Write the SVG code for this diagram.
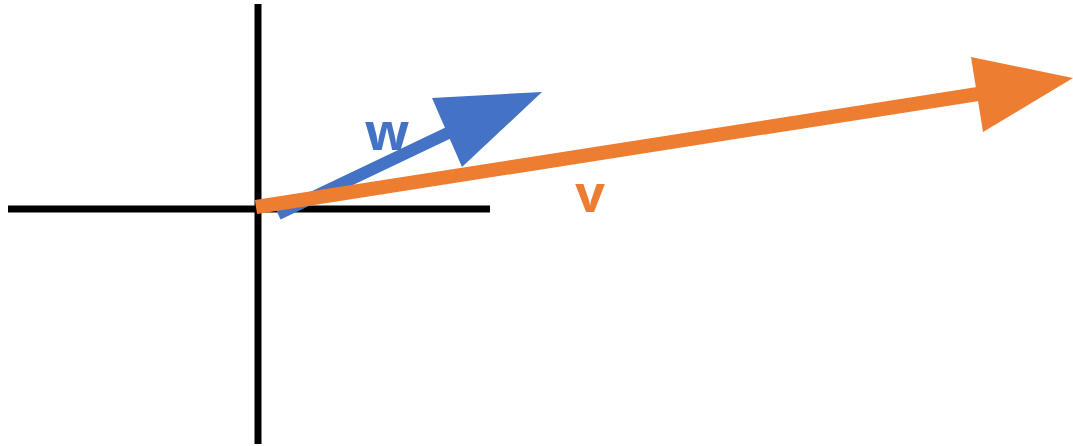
<svg xmlns="http://www.w3.org/2000/svg" width="1073" height="446" viewBox="0 0 1073 446">
<style>
.axis{stroke:#000;stroke-width:7;fill:none}
.lbl{font-family:"Open Sans","Liberation Sans",sans-serif;font-weight:bold;font-size:52px}
</style>
<rect width="1073" height="446" fill="#fff"/>
<g id="axes">
<line class="axis" x1="258" y1="4" x2="258" y2="444"/>
<line class="axis" x1="8" y1="209" x2="490" y2="209"/>
</g>
<g id="connectors">
<g id="w">
<line x1="278" y1="214" x2="448" y2="133" stroke="#4472C4" stroke-width="12"/>
<polygon points="432,98 542,92 462,167" fill="#4472C4"/>
</g>
<g id="v">
<line x1="256" y1="207" x2="978" y2="94" stroke="#ED7D31" stroke-width="14"/>
<polygon points="971,57 1073,78 983,132" fill="#ED7D31"/>
</g>
</g>
<text class="lbl" x="387" y="150" fill="#4472C4" text-anchor="middle">w</text>
<text class="lbl" x="590" y="212" fill="#ED7D31" text-anchor="middle">v</text>
</svg>
